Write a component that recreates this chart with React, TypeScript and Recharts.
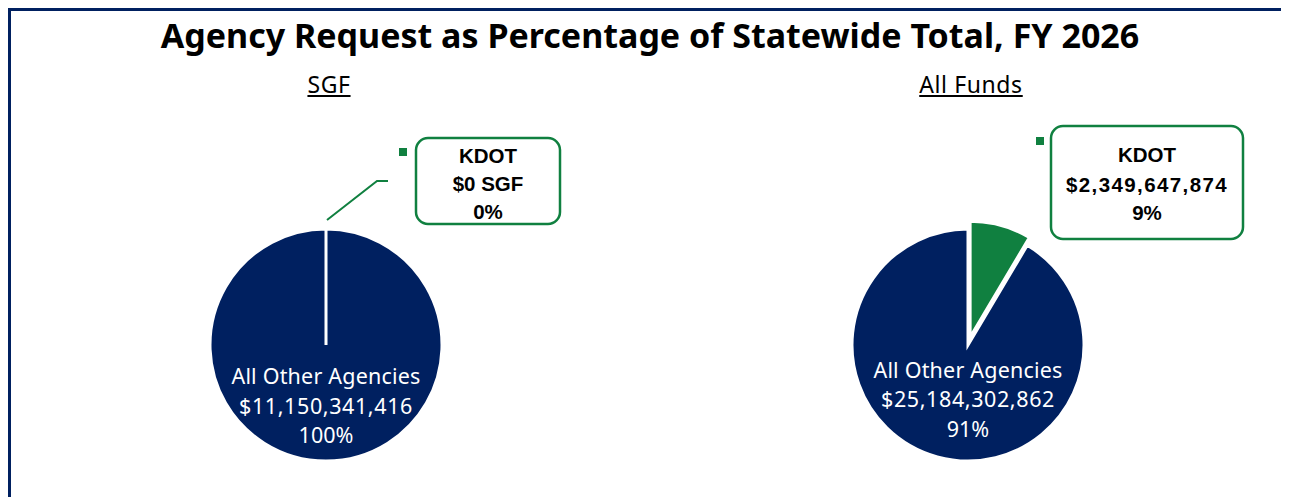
import { PieChart, Pie, Cell } from 'recharts';

const AGENCIES = ['KDOT', 'All Other Agencies'];
const SGF_VALUES = [0, 11150341416];
const SGF_AMOUNTS = ['$0 SGF', '$11,150,341,416'];
const SGF_PCT = ['0%', '100%'];
const ALL_FUNDS_VALUES = [2349647874, 25184302862];
const ALL_FUNDS_AMOUNTS = ['$2,349,647,874', '$25,184,302,862'];
const ALL_FUNDS_PCT = ['9%', '91%'];

const NAVY = '#002060';
const GREEN = '#108040';
const TEXT_FONT = '"Noto Sans", sans-serif';
const BOLD_FONT = '"Liberation Sans", Arial, sans-serif';

const sgfData = AGENCIES.map((name, i) => ({ name, value: SGF_VALUES[i], amount: SGF_AMOUNTS[i], pct: SGF_PCT[i] }));
const allFundsData = AGENCIES.map((name, i) => ({ name, value: ALL_FUNDS_VALUES[i], amount: ALL_FUNDS_AMOUNTS[i], pct: ALL_FUNDS_PCT[i] }));

// offset of the pulled-out KDOT slice, along its mid angle
const kdotShare = ALL_FUNDS_VALUES[0] / (ALL_FUNDS_VALUES[0] + ALL_FUNDS_VALUES[1]);
const midRad = (kdotShare * 180 * Math.PI) / 180;
const EXPLODE = 8;
const explodeDx = EXPLODE * Math.sin(midRad);
const explodeDy = -EXPLODE * Math.cos(midRad);

type CalloutCfg = {
  data: typeof sgfData;
  inside: number[]; // y offsets of the three inside lines
  box: [number, number, number, number]; // x, y, w, h relative to center
  square: [number, number];
  textX: number;
  textY: number[];
  leader?: number[][];
  numSpacing: number;
};

function makeLabel(cfg: CalloutCfg) {
  return (props: any) => {
    if (props.index !== 1) return null;
    const { cx, cy } = props;
    const other = cfg.data[1];
    const kdot = cfg.data[0];
    const [bx, by, bw, bh] = cfg.box;
    return (
      <g>
        <text x={cx} textAnchor="middle" fill="#fff" fontFamily={TEXT_FONT} fontSize={21.5}>
          <tspan x={cx} y={cy + cfg.inside[0]} letterSpacing={0.2}>{other.name}</tspan>
          <tspan x={cx} y={cy + cfg.inside[1]} letterSpacing={0.6}>{other.amount}</tspan>
          <tspan x={cx} y={cy + cfg.inside[2]}>{other.pct}</tspan>
        </text>
        {cfg.leader && (
          <polyline
            points={cfg.leader.map(([x, y]) => `${cx + x},${cy + y}`).join(' ')}
            fill="none"
            stroke={GREEN}
            strokeWidth={2}
          />
        )}
        <rect x={cx + cfg.square[0]} y={cy + cfg.square[1]} width={8} height={8} fill={GREEN} />
        <rect x={cx + bx} y={cy + by} width={bw} height={bh} rx={12} ry={12} fill="#fff" stroke={GREEN} strokeWidth={2.5} />
        <text textAnchor="middle" fill="#000" fontFamily={BOLD_FONT} fontWeight={700} fontSize={20.5}>
          <tspan x={cx + cfg.textX} y={cy + cfg.textY[0]}>{kdot.name}</tspan>
          <tspan x={cx + cfg.textX} y={cy + cfg.textY[1]} letterSpacing={cfg.numSpacing}>{kdot.amount}</tspan>
          <tspan x={cx + cfg.textX} y={cy + cfg.textY[2]}>{kdot.pct}</tspan>
        </text>
      </g>
    );
  };
}

const sgfLabel = makeLabel({
  data: sgfData,
  inside: [39, 69, 98],
  box: [90, -207, 144, 86],
  square: [73, -197],
  textX: 162,
  textY: [-182, -154, -126],
  leader: [[1, -125], [51, -164], [62, -164]],
  numSpacing: 0,
});

const allFundsLabel = makeLabel({
  data: allFundsData,
  inside: [33, 62, 92],
  box: [83, -219, 192, 113],
  square: [68, -208],
  textX: 179,
  textY: [-183, -153, -125],
  numSpacing: 1.4,
});

export default function App() {
  return (
    <div style={{ position: 'relative', width: 1281, height: 489 }}>
      <div style={{ position: 'absolute', left: 0, top: 0, width: 3, height: 489, background: NAVY }} />
      <div style={{ position: 'absolute', left: 0, top: 0, width: 1281, height: 3, background: NAVY }} />
      <svg style={{ position: 'absolute', left: 1278, top: 0 }} width={3} height={489}>
        <line x1={1.5} y1={6} x2={1.5} y2={489} stroke={NAVY} strokeWidth={1} strokeDasharray="44 6" />
      </svg>
      <div
        style={{
          position: 'absolute', left: 0, top: 9, width: 1284, textAlign: 'center',
          fontFamily: TEXT_FONT, fontWeight: 700, fontSize: 34, lineHeight: '36px', color: '#000',
        }}
      >
        Agency Request as Percentage of Statewide Total, FY 2026
      </div>
      <div style={{ position: 'absolute', left: 221, top: 60, width: 200, textAlign: 'center', fontFamily: TEXT_FONT, fontSize: 23, letterSpacing: 0.6, textDecoration: 'underline', color: '#000' }}>
        SGF
      </div>
      <div style={{ position: 'absolute', left: 863, top: 60, width: 200, textAlign: 'center', fontFamily: TEXT_FONT, fontSize: 23, letterSpacing: 0.6, textDecoration: 'underline', color: '#000' }}>
        All Funds
      </div>
      <div style={{ position: 'absolute', left: 0, top: 0 }}>
        <PieChart width={1281} height={489} margin={{ top: 0, right: 0, bottom: 0, left: 0 }}>
          <Pie
            data={sgfData}
            dataKey="value"
            cx={318}
            cy={337}
            outerRadius={116}
            startAngle={90}
            endAngle={-270}
            stroke="#fff"
            strokeWidth={3}
            label={sgfLabel}
            labelLine={false}
            isAnimationActive={false}
          >
            <Cell fill={GREEN} />
            <Cell fill={NAVY} />
          </Pie>
          <Pie
            data={allFundsData}
            dataKey="value"
            cx={960}
            cy={337}
            outerRadius={116}
            startAngle={90}
            endAngle={-270}
            stroke="#fff"
            strokeWidth={3}
            label={allFundsLabel}
            labelLine={false}
            isAnimationActive={false}
          >
            <Cell fill="transparent" stroke="none" />
            <Cell fill={NAVY} />
          </Pie>
          <Pie
            data={allFundsData}
            dataKey="value"
            cx={960 + explodeDx}
            cy={337 + explodeDy}
            outerRadius={116}
            startAngle={90}
            endAngle={-270}
            stroke="#fff"
            strokeWidth={3}
            label={false}
            labelLine={false}
            isAnimationActive={false}
          >
            <Cell fill={GREEN} />
            <Cell fill="transparent" stroke="none" />
          </Pie>
        </PieChart>
      </div>
    </div>
  );
}
